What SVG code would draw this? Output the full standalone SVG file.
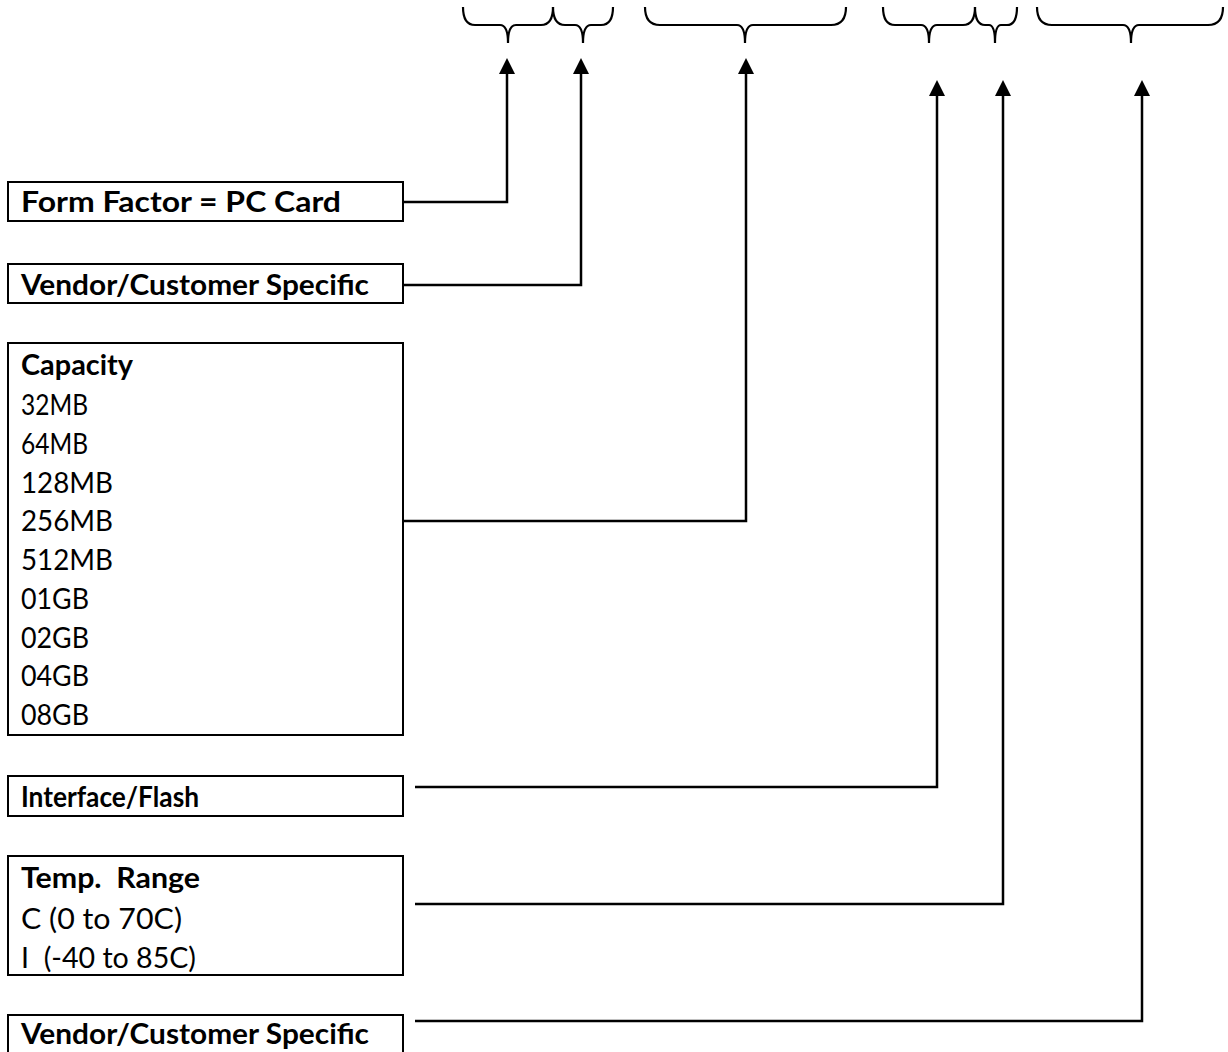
<svg xmlns="http://www.w3.org/2000/svg" width="1228" height="1052" viewBox="0 0 1228 1052">
<style>
.box{fill:#fff;stroke:#000;stroke-width:2}
.t{font-family:Lato,"Liberation Sans",sans-serif;font-size:29px;fill:#000}
.b{font-weight:bold}
.c{fill:none;stroke:#000;stroke-width:2.5}
.br{fill:none;stroke:#000;stroke-width:2.2}
</style>
<defs>
<marker id="ah" viewBox="0 0 16 16" refX="0" refY="8" markerWidth="16" markerHeight="16" markerUnits="userSpaceOnUse" orient="auto">
<path d="M0,0 L16,8 L0,16 z" fill="#000"/>
</marker>
</defs>
<rect width="1228" height="1052" fill="#fff"/>
<g id="braces">
<path class="br" d="M463,7 Q463,25 475,25 L500,25 Q508,25 508,43 Q508,25 516,25 L541,25 Q553,25 553,7"/>
<path class="br" d="M553,7 Q553,25 565,25 L575,25 Q583,25 583,43 Q583,25 591,25 L601,25 Q613,25 613,7"/>
<path class="br" d="M645,7 Q645,25 660,25 L737,25 Q745,25 745,43 Q745,25 753,25 L831,25 Q846,25 846,7"/>
<path class="br" d="M883,7 Q883,25 895,25 L921,25 Q929,25 929,43 Q929,25 937,25 L963,25 Q975,25 975,7"/>
<path class="br" d="M975,7 Q975,25 985,25 L989,25 Q995,25 995,43 Q995,25 1001,25 L1007,25 Q1017,25 1017,7"/>
<path class="br" d="M1037,7 Q1037,25 1052,25 L1123,25 Q1131,25 1131,43 Q1131,25 1139,25 L1208,25 Q1223,25 1223,7"/>
</g>
<g id="connectors">
<path class="c" d="M403,202 H507 V74" marker-end="url(#ah)"/>
<path class="c" d="M403,285 H581 V74" marker-end="url(#ah)"/>
<path class="c" d="M403,521 H746 V74" marker-end="url(#ah)"/>
<path class="c" d="M415,787 H937 V96" marker-end="url(#ah)"/>
<path class="c" d="M415,904 H1003 V96" marker-end="url(#ah)"/>
<path class="c" d="M415,1021 H1142 V96" marker-end="url(#ah)"/>
</g>
<g id="formfactor">
<rect class="box" x="8" y="182" width="395" height="39"/>
<text class="t b" x="21" y="212" textLength="320" lengthAdjust="spacingAndGlyphs">Form Factor = PC Card</text>
</g>
<g id="vendor1">
<rect class="box" x="8" y="264" width="395" height="39"/>
<text class="t b" x="21" y="295" textLength="348" lengthAdjust="spacingAndGlyphs">Vendor/Customer Specific</text>
</g>
<g id="capacity">
<rect class="box" x="8" y="343" width="395" height="392"/>
<text class="t b" x="21" y="375" textLength="112" lengthAdjust="spacingAndGlyphs">Capacity</text>
<text class="t" x="21" y="415" textLength="67" lengthAdjust="spacingAndGlyphs">32MB</text>
<text class="t" x="21" y="454" textLength="67" lengthAdjust="spacingAndGlyphs">64MB</text>
<text class="t" x="21" y="493" textLength="92" lengthAdjust="spacingAndGlyphs">128MB</text>
<text class="t" x="21" y="531" textLength="92" lengthAdjust="spacingAndGlyphs">256MB</text>
<text class="t" x="21" y="570" textLength="92" lengthAdjust="spacingAndGlyphs">512MB</text>
<text class="t" x="21" y="609" textLength="68" lengthAdjust="spacingAndGlyphs">01GB</text>
<text class="t" x="21" y="648" textLength="68" lengthAdjust="spacingAndGlyphs">02GB</text>
<text class="t" x="21" y="686" textLength="68" lengthAdjust="spacingAndGlyphs">04GB</text>
<text class="t" x="21" y="725" textLength="68" lengthAdjust="spacingAndGlyphs">08GB</text>
</g>
<g id="interface">
<rect class="box" x="8" y="776" width="395" height="40"/>
<text class="t b" x="21" y="807" textLength="178" lengthAdjust="spacingAndGlyphs">Interface/Flash</text>
</g>
<g id="temp">
<rect class="box" x="8" y="856" width="395" height="119"/>
<text class="t b" x="21" y="888" textLength="179" lengthAdjust="spacingAndGlyphs" xml:space="preserve">Temp.  Range</text>
<text class="t" x="21" y="929" textLength="161" lengthAdjust="spacingAndGlyphs">C (0 to 70C)</text>
<text class="t" x="21" y="968" textLength="175" lengthAdjust="spacingAndGlyphs" xml:space="preserve">I  (-40 to 85C)</text>
</g>
<g id="vendor2">
<rect class="box" x="8" y="1015" width="395" height="50"/>
<text class="t b" x="21" y="1044" textLength="348" lengthAdjust="spacingAndGlyphs">Vendor/Customer Specific</text>
</g>
</svg>
